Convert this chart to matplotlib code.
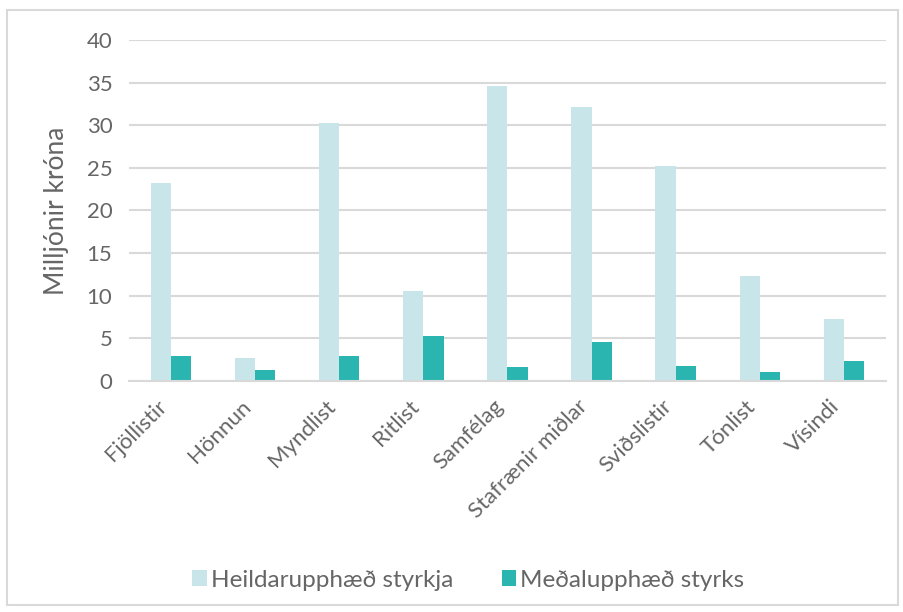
import numpy as np
import matplotlib.pyplot as plt
from matplotlib.patches import Rectangle

plt.rcParams['font.family'] = ['Lato', 'DejaVu Sans']

categories = ["Fjöllistir", "Hönnun", "Myndlist", "Ritlist", "Samfélag",
              "Stafrænir miðlar", "Sviðslistir", "Tónlist", "Vísindi"]
heildar = [23.2, 2.66, 30.3, 10.6, 34.66, 32.16, 25.2, 12.3, 7.24]
medal = [2.9, 1.29, 2.97, 5.28, 1.64, 4.54, 1.76, 1.06, 2.35]
series_names = ["Heildarupphæð styrkja", "Meðalupphæð styrks"]

LIGHT = "#C8E6EA"
DARK = "#2AB5B0"
TEXT = "#666666"
GRID = "#D9D9D9"

fig = plt.figure(figsize=(9.04, 6.12), dpi=100)
ax = fig.add_axes([0.1427, 0.3775, 0.8373, 0.5571])

x = np.arange(len(categories))
w = 0.24
ax.bar(x - w / 2, heildar, w, color=LIGHT, label=series_names[0], zorder=2)
ax.bar(x + w / 2, medal, w, color=DARK, label=series_names[1], zorder=2)

ax.set_xlim(-0.5, len(categories) - 0.5)
ax.set_ylim(0, 40)
ax.set_yticks(np.arange(0, 41, 5))
ax.grid(axis="y", color=GRID, linewidth=1.5, zorder=0)
for s in ["top", "right", "left"]:
    ax.spines[s].set_visible(False)
ax.spines["bottom"].set_color(GRID)
ax.spines["bottom"].set_linewidth(1.5)
ax.tick_params(length=0, labelsize=16, colors=TEXT)
ax.tick_params(axis="y", pad=12)
ax.tick_params(axis="x", pad=11)
ax.set_xticks(x)
ax.set_xticklabels(categories, rotation=45, ha="right", va="top")
ax.set_ylabel("Milljónir króna", fontsize=19, color=TEXT, labelpad=13)

fig.legend(loc="center", bbox_to_anchor=(0.518, 0.052), ncol=2, frameon=False,
           fontsize=17.5, labelcolor=TEXT, handlelength=0.6, handleheight=0.6,
           handletextpad=0.15, columnspacing=2.0)

fig.patches.append(Rectangle((0.008, 0.012), 0.985, 0.972, transform=fig.transFigure,
                             fill=False, edgecolor=GRID, linewidth=1.5))

fig.savefig("out.png", dpi=100)
